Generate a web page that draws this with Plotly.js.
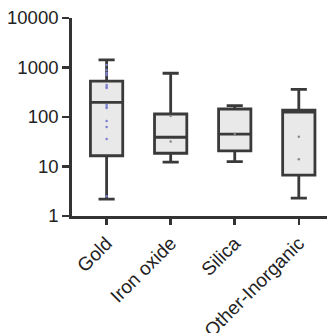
<!DOCTYPE html>
<html><head><meta charset="utf-8">
<script src="https://cdn.plot.ly/plotly-3.0.1.min.js"></script>
<style>html,body{margin:0;padding:0;background:#fff;}#chart{width:327px;height:333px;}</style>
</head><body><div id="chart"></div>
<script>
const categories = ["Gold", "Iron oxide", "Silica", "Other-Inorganic"];
const q1 = [16.5, 18.5, 20.6, 6.7];
const medians = [198, 39, 45, 125];
const q3 = [533, 115, 145, 138];
const lowerWhisker = [2.2, 12.3, 12.5, 2.3];
const upperWhisker = [1420, 765, 169, 363];
const goldPoints = [1120, 890, 775, 705, 443, 405, 385, 175, 160, 152, 83, 63, 36, 2.5];
const ironPoints = [105, 32];
const silicaPoints = [46];
const otherPoints = [40, 14];
const yTickVals = [1, 10, 100, 1000, 10000];
const yTickText = ["1", "10", "100", "1000", "10000"];

const traces = [{
  type: "box",
  x: categories,
  q1: q1, median: medians, q3: q3,
  lowerfence: lowerWhisker, upperfence: upperWhisker,
  fillcolor: "#e9e9e9",
  line: {color: "#3a3a3a", width: 2.8},
  whiskerwidth: 0.5,
  boxpoints: false,
  hoverinfo: "skip",
  showlegend: false
}];
function pts(cat, vals, color) {
  return {type: "scatter", mode: "markers", x: vals.map(() => cat), y: vals,
    marker: {size: 2.5, color: color}, showlegend: false, hoverinfo: "skip"};
}
traces.push(pts("Gold", goldPoints, "#7b7fd0"));
traces.push(pts("Iron oxide", ironPoints, "#888"));
traces.push(pts("Silica", silicaPoints, "#888"));
traces.push(pts("Other-Inorganic", otherPoints, "#888"));

const layout = {
  width: 327, height: 333,
  margin: {l: 72, r: 0, t: 18, b: 117},
  paper_bgcolor: "#fff", plot_bgcolor: "#fff",
  font: {family: "Liberation Sans, Arial, sans-serif", color: "#222", size: 18},
  boxgap: 0.28,
  xaxis: {
    type: "category", range: [-0.54, 3.44],
    showline: true, linecolor: "#333", linewidth: 2.8,
    ticks: "outside", ticklen: 6, tickwidth: 2.5, tickcolor: "#333",
    tickangle: -45, showgrid: false, zeroline: false,
    tickfont: {size: 19, color: "#222"}
  },
  yaxis: {
    type: "log", range: [0, 4],
    tickvals: yTickVals, ticktext: yTickText,
    showline: true, linecolor: "#333", linewidth: 2.8,
    ticks: "outside", ticklen: 7, tickwidth: 2.5, tickcolor: "#333",
    showgrid: false, zeroline: false,
    tickfont: {size: 18.5, color: "#222"}
  }
};
Plotly.newPlot("chart", traces, layout, {staticPlot: true, displayModeBar: false});
</script></body></html>
